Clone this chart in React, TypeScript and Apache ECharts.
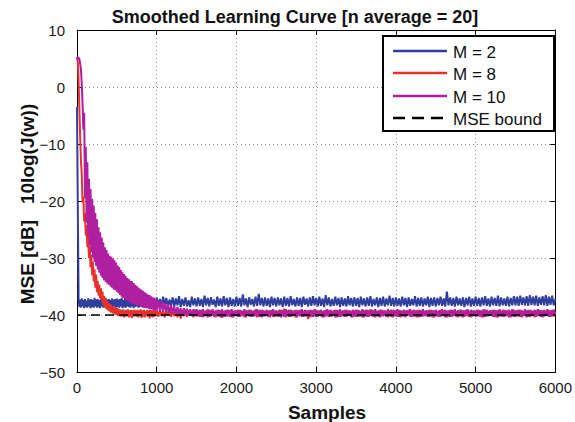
import React, { useEffect, useRef } from "react";
import * as echarts from "echarts";

const TITLE = "Smoothed Learning Curve [n average = 20]";
const X_NAME = "Samples";
const Y_NAME = "MSE [dB]   10log(J(w))";
const SERIES_NAMES = ["M = 2", "M = 8", "M = 10", "MSE bound"];
const COLORS = ["#2f3fa0", "#e5322a", "#b01ea2", "#000000"];
const X_MIN = 0;
const X_MAX = 6000;
const X_INTERVAL = 1000;
const Y_MIN = -50;
const Y_MAX = 10;
const Y_INTERVAL = 10;
const MSE_BOUND = -40;

// Sampling of the stored curves: samples 0..990 every 10, then 1000..6000 every 20
const EARLY_STEP = 10;
const LATE_START = 1000;
const LATE_STEP = 20;

// M = 2 (blue)
const M2_EARLY = [
  -3.5, -21.0, -37.2, -38.6, -37.3, -38.7, -37.1, -38.5, -37.4, -38.8, -37.2, -38.6, -37.5, -38.7, -37.1, -38.5, -37.3, -38.8, -37.2, -38.6, -37.4, -38.7, -37.0, -38.5, -37.3,
  -38.7, -37.2, -38.6, -37.4, -38.8, -37.1, -38.5, -37.3, -38.7, -37.2, -38.6, -37.0, -38.8, -37.3, -38.5, -37.2, -38.7, -37.4, -38.6, -37.1, -38.8, -37.3, -38.5, -37.2, -38.7,
  -37.1, -38.6, -37.3, -38.7, -37.2, -38.5, -37.0, -38.8, -37.4, -38.6, -37.2, -38.7, -37.1, -38.5, -37.3, -38.6, -36.9, -38.7, -37.2, -38.5, -37.3, -38.8, -37.1, -38.6, -37.2,
  -38.5, -37.0, -38.7, -37.3, -38.6, -37.1, -38.5, -37.2, -38.7, -36.9, -38.6, -37.3, -38.5, -37.1, -38.7, -37.2, -38.6, -37.0, -38.5, -37.3, -38.7, -37.1, -38.6, -37.2, -38.5,
];
const M2_LATE = [
  -36.9, -38.5, -37.2, -38.6, -36.8, -38.3, -37.0, -38.6, -37.3, -38.4, -36.9, -38.5, -37.1, -38.3, -36.7, -38.6, -37.2, -38.4, -36.9, -38.5, -37.4, -38.6, -36.8, -38.3, -37.1,
  -38.5, -36.9, -38.4, -37.2, -38.6, -36.6, -38.3, -37.0, -38.5, -36.9, -38.2, -37.3, -38.6, -36.8, -38.4, -37.1, -38.5, -36.7, -38.3, -37.0, -38.6, -36.9, -38.4, -37.2, -38.5,
  -36.8, -38.4, -37.0, -38.5, -36.4, -38.3, -37.1, -38.6, -36.9, -38.2, -37.2, -38.5, -36.8, -38.4, -36.3, -38.3, -37.0, -38.5, -36.9, -38.4, -37.1, -38.6, -36.8, -38.3, -37.0,
  -38.5, -36.9, -38.3, -37.1, -38.6, -36.8, -38.4, -37.0, -38.5, -36.7, -38.3, -37.2, -38.5, -36.9, -38.4, -37.0, -38.6, -36.8, -38.2, -37.1, -38.5, -36.9, -38.4, -36.7, -38.3,
  -37.0, -38.5, -36.8, -38.4, -37.1, -38.6, -36.5, -38.3, -36.9, -38.5, -37.2, -38.4, -36.8, -38.3, -37.0, -38.6, -36.9, -38.4, -37.1, -38.5, -36.7, -38.3, -37.0, -38.5, -36.9,
  -38.4, -37.0, -38.6, -36.8, -38.3, -37.1, -38.5, -36.9, -38.4, -36.7, -38.5, -37.2, -38.3, -36.9, -38.6, -37.0, -38.4, -36.8, -38.5, -37.1, -38.3, -36.6, -38.4, -37.0, -38.5,
  -36.9, -38.4, -37.1, -38.5, -36.8, -38.3, -37.0, -38.6, -36.9, -38.4, -37.2, -38.3, -36.7, -38.5, -37.0, -38.4, -36.9, -38.5, -37.1, -38.3, -36.8, -38.6, -37.0, -38.4, -36.9,
  -38.5, -37.0, -38.3, -36.8, -38.4, -37.1, -38.5, -35.9, -38.3, -36.9, -38.4, -37.0, -38.5, -36.8, -38.3, -37.1, -38.4, -36.9, -38.6, -37.0, -38.3, -36.8, -38.5, -37.1, -38.4,
  -36.8, -38.4, -37.0, -38.5, -36.9, -38.3, -36.7, -38.4, -37.1, -38.5, -36.8, -38.3, -37.0, -38.4, -36.6, -38.5, -36.9, -38.3, -37.1, -38.4, -36.8, -38.5, -37.0, -38.3, -36.7,
  -38.3, -36.8, -38.4, -36.6, -38.2, -36.9, -38.3, -36.7, -38.4, -36.5, -38.2, -36.8, -38.3, -36.6, -38.4, -36.9, -38.2, -36.7, -38.3, -36.5, -38.4, -36.8, -38.2, -36.6, -38.3,
  -37.2,
];

// M = 8 (red)
const M8_EARLY = [
  5.3, 4.5, 1.0, -4.0, -9.0, -13.0, -15.5, -20.3, -19.2, -23.6, -22.1, -26.1, -24.2, -28.1, -26.2, -30.0, -27.9, -31.6, -29.4, -33.0, -30.7, -34.1, -32.0, -35.2, -32.9,
  -36.0, -34.0, -36.6, -34.7, -37.1, -35.3, -37.6, -35.9, -38.3, -36.7, -38.7, -37.1, -39.0, -37.6, -39.2, -37.9, -39.4, -38.1, -39.6, -38.4, -39.7, -38.5, -39.9, -38.7, -40.0,
  -38.8, -40.1, -38.9, -40.2, -39.0, -40.3, -39.1, -40.2, -39.0, -40.4, -39.2, -40.3, -39.1, -40.2, -39.0, -40.4, -39.2, -40.3, -39.1, -40.5, -39.2, -40.3, -39.1, -40.2, -39.2,
  -40.3, -39.1, -40.4, -39.2, -40.2, -39.0, -40.5, -39.2, -40.3, -39.1, -40.4, -39.3, -40.2, -39.1, -40.3, -39.2, -40.6, -39.1, -40.3, -39.2, -40.4, -39.1, -40.3, -39.2, -40.2,
];
const M8_LATE = [
  -39.2, -40.3, -39.1, -40.2, -39.3, -40.4, -39.2, -40.1, -39.0, -40.3, -39.3, -40.2, -39.1, -40.4, -39.2, -40.6, -39.3, -40.2, -39.1, -40.3, -39.2, -40.1, -39.3, -40.4, -39.1,
  -40.2, -39.2, -40.3, -39.1, -40.4, -39.3, -40.2, -39.0, -40.3, -39.2, -40.1, -39.3, -40.4, -39.1, -40.2, -39.2, -40.5, -39.3, -40.3, -39.1, -40.2, -39.2, -40.4, -39.3, -40.1,
  -39.2, -40.3, -39.1, -40.2, -39.3, -40.4, -39.2, -40.1, -39.1, -40.3, -39.3, -40.2, -39.0, -40.4, -39.2, -40.3, -39.1, -40.2, -39.3, -40.1, -39.2, -40.4, -39.1, -40.3, -39.2,
  -40.2, -39.3, -40.3, -39.1, -40.1, -38.9, -40.4, -39.2, -40.3, -39.1, -40.2, -39.3, -40.4, -39.2, -40.1, -39.1, -40.3, -39.3, -40.2, -39.2, -40.7, -39.1, -40.3, -39.2, -40.2,
  -39.1, -40.3, -39.2, -40.2, -39.3, -40.4, -39.1, -40.2, -39.2, -40.3, -39.3, -40.1, -39.1, -40.4, -39.2, -40.3, -39.3, -40.2, -39.1, -40.3, -39.2, -40.1, -39.3, -40.4, -39.2,
  -40.3, -39.1, -40.2, -39.3, -40.4, -39.2, -40.1, -39.1, -40.3, -39.0, -40.2, -39.2, -40.4, -39.3, -40.3, -39.1, -40.2, -39.2, -40.1, -39.3, -40.4, -39.2, -40.3, -39.1, -40.2,
  -39.2, -40.3, -39.1, -40.4, -39.3, -40.2, -39.2, -40.1, -39.1, -40.3, -39.3, -40.2, -39.2, -40.4, -39.1, -40.3, -39.2, -40.2, -39.3, -40.1, -39.2, -40.3, -39.1, -40.4, -39.2,
  -40.2, -39.3, -40.3, -39.1, -40.1, -39.2, -40.4, -39.3, -40.2, -39.1, -40.3, -39.2, -40.1, -39.3, -40.4, -39.1, -40.2, -39.2, -40.3, -39.1, -40.2, -39.3, -40.4, -39.2, -40.1,
  -39.3, -40.2, -39.1, -40.3, -39.2, -40.4, -39.1, -40.2, -39.3, -40.1, -39.2, -40.3, -39.1, -40.4, -39.2, -40.2, -39.3, -40.3, -39.1, -40.1, -39.2, -40.4, -39.3, -40.2, -39.1,
  -40.3, -39.2, -40.2, -39.1, -40.4, -39.3, -40.1, -39.2, -40.3, -39.1, -40.2, -39.3, -40.4, -39.2, -40.1, -39.1, -40.3, -39.2, -40.2, -39.3, -40.1, -39.2, -40.3, -39.1, -40.2,
  -39.7,
];

// M = 10 (magenta)
const M10_EARLY = [
  4.8, 5.2, 5.1, 4.9, 4.0, 3.0, 0.5, -3.0, -7.5, -4.5, -19.5, -10.5, -23.8, -13.2, -26.3, -16.1, -27.8, -17.9, -29.0, -19.6, -29.9, -20.8, -30.7, -22.1, -31.4,
  -23.2, -32.0, -24.6, -32.6, -25.5, -33.1, -26.4, -33.5, -27.3, -33.9, -28.1, -34.2, -28.6, -34.5, -29.2, -34.7, -29.6, -35.0, -29.8, -35.2, -30.1, -35.5, -30.4, -35.6, -30.8,
  -35.9, -31.3, -36.2, -31.6, -36.5, -32.1, -36.8, -32.5, -37.0, -32.8, -37.2, -33.1, -37.4, -33.5, -37.6, -33.7, -37.8, -34.0, -37.9, -34.1, -38.0, -34.4, -38.1, -34.7, -38.2,
  -34.9, -38.3, -35.2, -38.4, -35.4, -38.5, -35.6, -38.6, -35.8, -38.7, -36.0, -38.8, -36.2, -38.8, -36.4, -38.9, -36.5, -39.0, -36.7, -39.0, -36.9, -39.1, -37.0, -39.2, -37.2,
];
const M10_LATE = [
  -39.2, -37.4, -39.3, -37.6, -39.4, -37.9, -39.5, -38.1, -39.6, -38.3, -39.7, -38.5, -39.8, -38.6, -39.9, -38.8, -40.0, -38.8, -40.1, -38.9, -40.1, -39.0, -40.2, -39.0, -40.2,
  -39.0, -40.2, -39.1, -40.3, -39.0, -40.2, -39.2, -40.4, -39.1, -40.2, -39.0, -40.3, -39.2, -40.2, -39.1, -40.4, -39.0, -40.3, -39.2, -40.2, -39.1, -40.3, -39.0, -40.4, -39.2,
  -40.2, -39.1, -40.3, -39.2, -40.1, -39.0, -40.4, -39.2, -40.2, -39.1, -40.3, -39.2, -40.2, -39.0, -40.3, -39.1, -40.4, -39.2, -40.2, -39.1, -40.3, -39.2, -40.1, -39.0, -40.3,
  -39.2, -40.2, -39.1, -40.4, -39.2, -40.3, -39.0, -40.2, -39.1, -40.3, -39.2, -40.1, -39.1, -40.4, -39.2, -40.2, -39.0, -40.3, -39.1, -40.2, -39.2, -40.4, -39.1, -40.3, -39.0,
  -40.3, -39.2, -40.1, -39.1, -40.4, -39.2, -40.2, -39.0, -40.3, -39.1, -40.2, -39.2, -40.4, -39.1, -40.3, -39.0, -40.2, -39.2, -40.3, -39.1, -40.1, -39.2, -40.4, -39.1, -40.2,
  -39.1, -40.3, -39.2, -40.2, -39.0, -40.4, -39.1, -40.3, -39.2, -40.1, -39.1, -40.3, -39.0, -40.2, -39.2, -40.4, -39.1, -40.2, -39.2, -40.3, -39.0, -40.2, -39.1, -40.4, -39.2,
  -40.2, -39.0, -40.3, -39.2, -40.2, -39.1, -40.4, -39.2, -40.1, -39.0, -40.3, -39.1, -40.2, -39.2, -40.4, -39.1, -40.3, -39.0, -40.2, -39.2, -40.3, -39.1, -40.2, -39.2, -40.4,
  -39.1, -40.2, -39.2, -40.3, -39.0, -40.2, -39.1, -40.4, -39.2, -40.3, -39.1, -40.2, -39.0, -40.3, -39.2, -40.2, -39.1, -40.4, -39.2, -40.1, -39.0, -40.3, -39.1, -40.2, -39.2,
  -40.3, -39.1, -40.2, -39.2, -40.4, -39.0, -40.3, -39.1, -40.2, -39.2, -40.1, -39.1, -40.3, -39.2, -40.4, -39.0, -40.2, -39.1, -40.3, -39.2, -40.2, -39.1, -40.4, -39.0, -40.3,
  -39.2, -40.2, -39.1, -40.3, -39.2, -40.2, -39.0, -40.4, -39.1, -40.3, -39.2, -40.1, -39.1, -40.3, -39.0, -40.2, -39.2, -40.4, -39.1, -40.2, -39.0, -40.3, -39.2, -40.2, -39.1,
  -39.7,
];

const FONT = "'Liberation Sans', Arial, Helvetica, sans-serif";

const toPoints = (early: number[], late: number[]) =>
  early
    .map((v, i) => [i * EARLY_STEP, v])
    .concat(late.map((v, i) => [LATE_START + i * LATE_STEP, v]));

export default function App() {
  const ref = useRef<HTMLDivElement | null>(null);

  useEffect(() => {
    if (!ref.current) return;
    const chart = echarts.init(ref.current, undefined, { renderer: "svg" });

    const axisLineStyle = { color: "#000", width: 1 };
    const tick = { show: true, inside: true, length: 5, lineStyle: { color: "#000", width: 1 } };
    const grid = { show: true, lineStyle: { color: "#8a8a8a", width: 1, type: [1, 3] as any } };
    const minus = (v: number) => String(v).replace("-", "\u2212");

    const lineSeries = (name: string, early: number[], late: number[], color: string, z: number) => ({
      name,
      type: "line",
      data: toPoints(early, late),
      symbol: "none",
      showSymbol: false,
      z,
      lineStyle: { color, width: 2 },
      itemStyle: { color },
    });

    // legend drawn as graphic elements (MATLAB-style boxed legend)
    const LEG_X = 383;
    const LEG_Y = 36;
    const LEG_W = 171;
    const LEG_H = 95;
    const ROW_Y = [51, 73, 96, 118];
    const legendItems: any[] = [
      {
        type: "rect",
        shape: { x: LEG_X, y: LEG_Y, width: LEG_W, height: LEG_H },
        style: { fill: "#fff", stroke: "#000", lineWidth: 2 },
        z: 100,
      },
    ];
    SERIES_NAMES.forEach((name, i) => {
      legendItems.push({
        type: "line",
        shape: { x1: 393, y1: ROW_Y[i], x2: 447, y2: ROW_Y[i] },
        style: {
          stroke: COLORS[i],
          lineWidth: 2.5,
          lineDash: i === 3 ? [12, 7] : null,
        },
        z: 101,
      });
      legendItems.push({
        type: "text",
        x: 453,
        y: ROW_Y[i] + 1,
        style: {
          text: name,
          fontSize: 17,
          fontFamily: FONT,
          fill: "#111",
          textAlign: "left",
          textVerticalAlign: "middle",
        },
        z: 101,
      });
    });

    chart.setOption({
      animation: false,
      backgroundColor: "#fff",
      textStyle: { fontFamily: FONT },
      grid: { left: 77, top: 30, right: 14, bottom: 50, containLabel: false },
      xAxis: [
        {
          type: "value",
          min: X_MIN,
          max: X_MAX,
          interval: X_INTERVAL,
          position: "bottom",
          axisLine: { show: true, onZero: false, lineStyle: axisLineStyle },
          axisTick: tick,
          axisLabel: {
            fontSize: 15,
            color: "#1a1a1a",
            margin: 8,
            fontFamily: FONT,
            formatter: (v: number) => String(v),
          },
          splitLine: grid,
        },
        {
          type: "value",
          min: X_MIN,
          max: X_MAX,
          interval: X_INTERVAL,
          position: "top",
          axisLine: { show: true, onZero: false, lineStyle: axisLineStyle },
          axisTick: tick,
          axisLabel: { show: false },
          splitLine: { show: false },
        },
      ],
      yAxis: [
        {
          type: "value",
          min: Y_MIN,
          max: Y_MAX,
          interval: Y_INTERVAL,
          position: "left",
          axisLine: { show: true, onZero: false, lineStyle: axisLineStyle },
          axisTick: tick,
          axisLabel: { fontSize: 15, color: "#1a1a1a", margin: 12, fontFamily: FONT, formatter: minus },
          splitLine: grid,
        },
        {
          type: "value",
          min: Y_MIN,
          max: Y_MAX,
          interval: Y_INTERVAL,
          position: "right",
          axisLine: { show: true, onZero: false, lineStyle: axisLineStyle },
          axisTick: tick,
          axisLabel: { show: false },
          splitLine: { show: false },
        },
      ],
      legend: { show: false },
      graphic: [
        {
          type: "text",
          x: 295,
          y: 17,
          style: {
            text: TITLE,
            fontSize: 18,
            fontWeight: "bold",
            fontFamily: FONT,
            fill: "#111",
            textAlign: "center",
            textVerticalAlign: "middle",
          },
        },
        {
          type: "text",
          x: 327,
          y: 412,
          style: {
            text: X_NAME,
            fontSize: 19,
            fontWeight: "bold",
            fontFamily: FONT,
            fill: "#111",
            textAlign: "center",
            textVerticalAlign: "middle",
          },
        },
        {
          type: "text",
          x: 27,
          y: 204,
          rotation: Math.PI / 2,
          style: {
            text: Y_NAME,
            fontSize: 19,
            fontWeight: "bold",
            fontFamily: FONT,
            fill: "#111",
            textAlign: "center",
            textVerticalAlign: "middle",
          },
        },
        ...legendItems,
      ],
      series: [
        lineSeries(SERIES_NAMES[0], M2_EARLY, M2_LATE, COLORS[0], 3),
        lineSeries(SERIES_NAMES[1], M8_EARLY, M8_LATE, COLORS[1], 4),
        lineSeries(SERIES_NAMES[2], M10_EARLY, M10_LATE, COLORS[2], 5),
        {
          name: SERIES_NAMES[3],
          type: "line",
          data: [
            [X_MIN, MSE_BOUND],
            [X_MAX, MSE_BOUND],
          ],
          symbol: "none",
          showSymbol: false,
          z: 6,
          lineStyle: { color: COLORS[3], width: 1.5, type: [9, 5] },
          itemStyle: { color: COLORS[3] },
        },
      ],
    });

    return () => chart.dispose();
  }, []);

  return (
    <div
      ref={ref}
      style={{ position: "fixed", left: 0, top: 0, width: 575, height: 422, background: "#fff" }}
    />
  );
}
